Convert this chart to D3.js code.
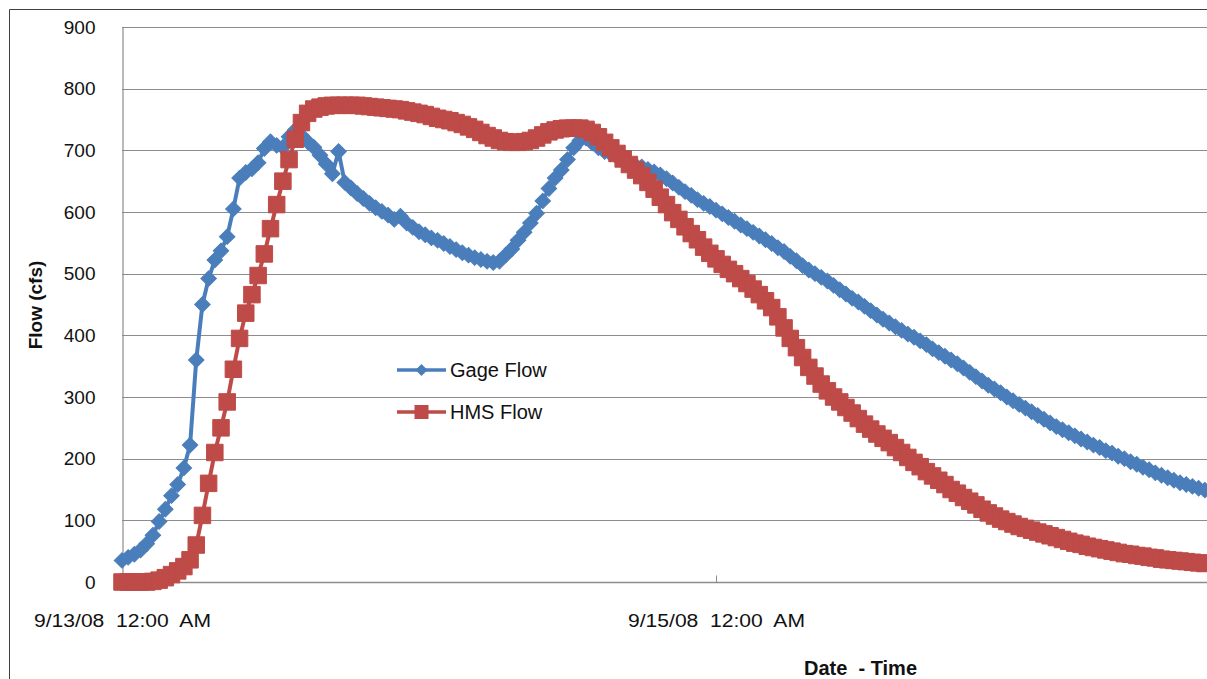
<!DOCTYPE html>
<html>
<head>
<meta charset="utf-8">
<script src="https://cdn.jsdelivr.net/npm/d3@7"></script>
<style>
  html, body { margin: 0; padding: 0; background: #fff; }
  svg { display: block; font-family: 'Liberation Sans', Arial, sans-serif; }
  .axis text { fill: #111; }
</style>
</head>
<body>
<svg id="chart" width="1207" height="679"></svg>
<script>
// Series: 30-minute readings starting 9/13/08 12:00 AM (cfs)
const startTime = new Date(2008, 8, 13, 0, 0);
const stepMinutes = 30;

const gageFlow = [
  35, 40, 45, 52, 62, 76, 98, 118, 140, 158,
  185, 222, 360, 450, 492, 522, 537, 560, 605, 655,
  664, 670, 680, 703, 714, 708, 705, 722, 733, 724,
  714, 705, 692, 678, 662, 698, 648, 639, 630, 622,
  614, 607, 601, 595, 588, 593, 582, 575, 568, 563,
  558, 554, 549, 544, 539, 534, 530, 526, 523, 520,
  518, 520, 530, 540, 554, 567, 582, 598, 618, 638,
  655, 668, 685, 704, 716, 720, 712, 704, 698, 694,
  689, 684, 679, 676, 673, 669, 665, 660, 654, 647,
  640, 633, 627, 620, 614, 609, 603, 597, 591, 585,
  579, 573, 567, 561, 555, 549, 542, 536, 528, 521,
  513, 506, 500, 494, 488, 481, 474, 467, 460, 454,
  447, 440, 433, 426, 420, 414, 408, 402, 397, 391,
  385, 378, 372, 366, 360, 354, 347, 340, 333, 326,
  319, 313, 307, 300, 294, 288, 282, 276, 270, 264,
  258, 252, 247, 242, 237, 232, 227, 222, 218, 213,
  209, 204, 200, 195, 191, 186, 182, 177, 173, 169,
  165, 161, 158, 155, 152, 149
];

const hmsFlow = [
  0, 0, 0, 0, 0, 1, 3, 7, 12, 18,
  25, 36, 60, 108, 160, 210, 250, 292, 345, 395,
  436, 466, 497, 532, 573, 612, 650, 685, 718, 745,
  760, 767, 770, 772, 773, 773, 773, 773, 773, 772,
  771, 770, 769, 768, 767, 766, 764, 762, 760, 758,
  755, 752, 750, 748, 745, 742, 738, 734, 729, 724,
  720, 716, 714, 713, 713, 714, 716, 720, 725, 730,
  733, 735, 736, 736, 736, 734, 729, 722, 713, 704,
  695, 686, 677, 668, 659, 648, 637, 624, 612, 599,
  588, 576, 565, 555, 543, 533, 524, 515, 507, 500,
  492, 484, 475, 466, 456, 445, 430, 412, 395, 380,
  364, 348, 334, 321, 310, 300, 292, 283, 274, 265,
  256, 248, 240, 233, 226, 218, 210, 202, 194, 187,
  179, 172, 165, 158, 150, 144, 137, 131, 125, 118,
  112, 107, 102, 98, 94, 90, 87, 84, 81, 78,
  75, 72, 69, 66, 63, 61, 58, 56, 54, 52,
  50, 48, 46, 45, 43, 42, 40, 39, 37, 36,
  35, 34, 33, 32, 31, 30
];

// Axis ticks and labels
const yTicks = [0, 100, 200, 300, 400, 500, 600, 700, 800, 900];
const xTickDates = [new Date(2008, 8, 13, 0, 0), new Date(2008, 8, 15, 0, 0)];
const xTickLabels = ['9/13/08  12:00  AM', '9/15/08  12:00  AM'];

const seriesNames = ['Gage Flow', 'HMS Flow'];
const seriesColors = ['#4A7EBB', '#BE4B48'];

// Layout
const plot = { left: 122, top: 27, right: 1215, bottom: 582 };

const svg = d3.select('#chart');

// Scales: 2 days span 122 -> 716 px
const xScale = d3.scaleTime()
    .domain([xTickDates[0], xTickDates[1]])
    .range([plot.left, 716]);

const yScale = d3.scaleLinear()
    .domain([0, 900])
    .range([plot.bottom, plot.top]);

const timeAt = i => new Date(startTime.getTime() + i * stepMinutes * 60000);

// Outer chart border (top + left visible)
svg.append('path')
    .attr('d', 'M9.5,679 L9.5,9.5 L1207,9.5')
    .attr('fill', 'none')
    .attr('stroke', '#404040')
    .attr('stroke-width', 1);

// Horizontal gridlines
svg.append('g')
    .selectAll('line')
    .data(yTicks.filter(d => d > 0))
    .join('line')
    .attr('x1', plot.left)
    .attr('x2', plot.right)
    .attr('y1', d => Math.round(yScale(d)) + 0.5)
    .attr('y2', d => Math.round(yScale(d)) + 0.5)
    .attr('stroke', '#8c8c8c')
    .attr('stroke-width', 1.2);

// Y axis
const yAxis = d3.axisLeft(yScale)
    .tickValues(yTicks)
    .tickSize(0)
    .tickPadding(27);

const yAxisG = svg.append('g')
    .attr('class', 'axis')
    .attr('transform', `translate(${plot.left + 0.5},0)`)
    .call(yAxis);

yAxisG.select('.domain').attr('stroke', '#8c8c8c').attr('stroke-width', 1.2);
yAxisG.selectAll('text').style('font-size', '19px');

// X axis with inward ticks
const xAxis = d3.axisBottom(xScale)
    .tickValues(xTickDates)
    .tickSizeInner(-7)
    .tickSizeOuter(0)
    .tickPadding(32)
    .tickFormat((d, i) => xTickLabels[i]);

const xAxisG = svg.append('g')
    .attr('class', 'axis')
    .attr('transform', `translate(0,${plot.bottom + 0.5})`)
    .call(xAxis);

xAxisG.select('.domain')
    .attr('d', `M${plot.left},0H${plot.right}`)
    .attr('stroke', '#8c8c8c')
    .attr('stroke-width', 1.5);
xAxisG.selectAll('.tick line').attr('stroke', '#8c8c8c');
xAxisG.selectAll('text')
    .style('font-size', '18px')
    .style('white-space', 'pre')
    .attr('textLength', 177)
    .attr('lengthAdjust', 'spacingAndGlyphs');

// Axis titles
svg.append('text')
    .attr('transform', 'translate(42,305) rotate(-90)')
    .attr('text-anchor', 'middle')
    .style('font-size', '19px')
    .style('font-weight', 'bold')
    .attr('fill', '#111')
    .text('Flow (cfs)');

svg.append('text')
    .attr('x', 804)
    .attr('y', 675)
    .style('font-size', '20px')
    .style('font-weight', 'bold')
    .style('white-space', 'pre')
    .attr('fill', '#111')
    .text('Date  - Time');

// Marker shapes
const diamond = size => d3.symbol().type(d3.symbolSquare).size(size * size / 2)();
const square = size => d3.symbol().type(d3.symbolSquare).size(size * size)();

const line = d3.line()
    .x((d, i) => xScale(timeAt(i)))
    .y(d => yScale(d));

// Draw one series: line + markers
function drawSeries(values, color, markerPath, rotate) {
    const g = svg.append('g');
    g.append('path')
        .datum(values)
        .attr('d', line)
        .attr('fill', 'none')
        .attr('stroke', color)
        .attr('stroke-width', 4)
        .attr('stroke-linejoin', 'round');

    g.selectAll('path.marker')
        .data(values)
        .join('path')
        .attr('class', 'marker')
        .attr('d', markerPath)
        .attr('transform', (d, i) => `translate(${xScale(timeAt(i))},${yScale(d)}) rotate(${rotate})`)
        .attr('fill', color)
        .attr('stroke', color)
        .attr('stroke-width', 1);
}

drawSeries(gageFlow, seriesColors[0], diamond(15.5), 45);
drawSeries(hmsFlow, seriesColors[1], square(16.5), 0);

// Legend
const legendRows = [
    { name: seriesNames[0], color: seriesColors[0], marker: diamond(12), rotate: 45, y: 370 },
    { name: seriesNames[1], color: seriesColors[1], marker: square(14), rotate: 0, y: 412 }
];

const legend = svg.append('g');
legendRows.forEach(r => {
    legend.append('line')
        .attr('x1', 397).attr('x2', 446)
        .attr('y1', r.y).attr('y2', r.y)
        .attr('stroke', r.color)
        .attr('stroke-width', 3.5);
    legend.append('path')
        .attr('d', r.marker)
        .attr('transform', `translate(421.5,${r.y}) rotate(${r.rotate})`)
        .attr('fill', r.color);
    legend.append('text')
        .attr('x', 450)
        .attr('y', r.y + 7)
        .style('font-size', '20px')
        .attr('fill', '#111')
        .text(r.name);
});
</script>
</body>
</html>
